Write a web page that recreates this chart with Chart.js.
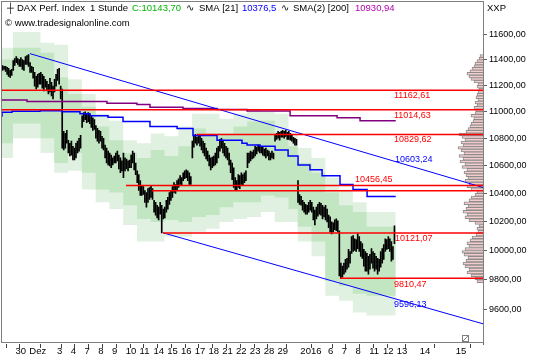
<!DOCTYPE html>
<html>
<head>
<meta charset="utf-8">
<title>DAX Perf. Index 1 Stunde</title>
<script src="https://cdn.jsdelivr.net/npm/chart.js@4.4.1/dist/chart.umd.min.js"></script>
<style>
html,body{margin:0;padding:0;background:#ffffff;overflow:hidden;}
canvas{display:block;}
</style>
</head>
<body>
<canvas id="chart" width="540" height="360"></canvas>
<script>
// ---------------- data ----------------
const dayLabels = ['', '30', 'Dez', '', '3', '4', '7', '8', '9', '10', '11', '14', '15', '16', '17', '18', '21', '22', '23', '28', '29', '', '2016', '', '6', '7', '8', '11', '12', '13'];
const dayBars   = [7, 9, 9, 9, 9, 9, 9, 9, 9, 9, 9, 9, 9, 9, 9, 9, 9, 9, 9, 9, 9, 6, 9, 9, 9, 9, 9, 9, 9, 1];
const futureLabels = ['14', '15'];
const futureIdx = [270.4, 293.9];

const highs = [
11354,11347,11347,11339,11331,11316,11324,
11393,11408,11424,11408,11401,11416,11401,11393,11424,
11431,11439,11377,11347,11339,11300,11270,11285,11293,
11300,11285,11270,11247,11232,11209,11255,11224,11194,
11247,11285,11324,11331,11194,11172,10852,10837,10859,
10786,10764,10779,10742,10728,10764,10779,10801,10822,
10969,10992,10999,10984,10992,10977,10969,10954,10940,
10895,10874,10859,10852,10815,10801,10750,10728,10706,
10692,10677,10656,10670,10692,10706,10677,10656,10634,
10692,10656,10648,10634,10641,10677,10706,10692,10619,
10562,10534,10491,10456,10449,10420,10406,10434,10442,
10456,10434,10350,10336,10315,10302,10336,10315,10288,
10302,10350,10371,10406,10420,10449,10477,10463,10491,
10505,10527,10513,10548,10562,10569,10562,10548,10520,
10779,10815,10830,10808,10822,10815,10801,10779,10764,
10728,10706,10677,10656,10663,10670,10692,10728,10742,
10793,10801,10779,10764,10742,10728,10692,10641,10619,
10584,10513,10491,10534,10527,10548,10534,10548,10562,
10692,10692,10706,10699,10714,10742,10735,10750,10742,
10742,10735,10721,10728,10714,10706,10692,10706,10692,
10830,10837,10852,10844,10852,10859,10852,10859,10844,
10852,10837,10822,10808,10801,10793,
10491,10392,10378,10350,10336,10322,10315,10336,10350,
10336,10302,10281,10302,10322,10336,10329,10315,10302,
10315,10288,10246,10233,10198,10191,10212,10219,10205,
10136,9913,9893,9913,9939,9946,10007,9993,10095,
10102,10081,10075,10115,10095,10061,10047,10007,9993,
9980,9960,9973,10013,9993,9980,9960,9946,9939,
9993,10013,10041,10081,10075,10095,10081,10061,10027,
10170];

const lows = [
11316,11324,11308,11285,11270,11262,11277,
11316,11354,11377,11362,11347,11347,11324,11316,11362,
11362,11347,11300,11300,11255,11194,11172,11187,11209,
11209,11179,11157,11187,11157,11134,11149,11119,11097,
11149,11194,11239,11209,11097,10728,10714,10728,10764,
10692,10670,10677,10641,10641,10656,10692,10706,10728,
10881,10925,10940,10917,10925,10910,10881,10859,10866,
10801,10779,10764,10779,10728,10714,10656,10619,10605,
10598,10584,10605,10619,10619,10634,10576,10548,10562,
10513,10562,10576,10562,10584,10584,10619,10569,10534,
10477,10420,10385,10385,10392,10336,10302,10336,10357,
10371,10357,10267,10246,10226,10212,10253,10122,10219,
10226,10267,10288,10322,10350,10371,10406,10399,10420,
10442,10463,10456,10491,10505,10513,10491,10463,10463,
10656,10735,10764,10750,10764,10742,10714,10692,10670,
10648,10634,10598,10569,10584,10598,10605,10619,10656,
10706,10728,10692,10670,10656,10641,10605,10548,10498,
10442,10420,10420,10442,10434,10463,10456,10477,10491,
10584,10619,10634,10648,10656,10670,10685,10706,10692,
10692,10677,10670,10656,10670,10641,10641,10656,10648,
10779,10793,10801,10786,10808,10808,10801,10815,10793,
10793,10786,10779,10764,10750,10750,
10336,10322,10315,10281,10267,10253,10253,10267,10281,
10267,10212,10177,10219,10239,10253,10246,10219,10233,
10212,10198,10157,10129,10115,10129,10143,10136,10129,
9826,9812,9819,9839,9852,9872,9886,9913,9980,
9993,10000,9993,10013,9993,9960,9946,9893,9859,
9859,9839,9872,9913,9879,9859,9872,9839,9859,
9886,9913,9939,9993,10007,10013,9993,9926,9939,
10047];

// daily envelope bands (one value per trading day)
const bandOuterTop    = [11493,11493,11618,11618,11532,11516,11247,11134,10984,10932,10786,10764,10837,10815,10888,10984,10984,10947,10984,11022,10999,10984,10837,10728,10656,10513,10427,10336,10267,10267];
const bandInnerTop    = [11401,11401,11493,11493,11454,11262,11134,11037,10888,10786,10692,10656,10714,10670,10742,10874,10837,10837,10888,10925,10932,10837,10742,10619,10548,10406,10315,10267,10164,10164];
const bandInnerBottom = [10764,10764,10910,10910,10801,10619,10692,10548,10427,10406,10315,10219,10198,10212,10198,10233,10246,10302,10336,10336,10385,10371,10288,10164,10061,9792,9759,9707,9694,9694];
const bandOuterBottom = [10656,10656,10801,10801,10692,10548,10562,10427,10336,10288,10177,10061,10061,10095,10095,10129,10150,10198,10219,10233,10267,10198,10198,10061,9960,9694,9661,9583,9563,9563];

const sma21Idx = [-0.65,5.9,24.2,38.5,50.3,56.8,68.6,78.4,96,113.7,124.1,139.8,156.1,159.4,167.9,177.7,186.2,192.7,200.5,208.4,220.1,228.6,237.8,246.2,256.5];
const sma21Val = [10962,10995,11003,11006,10999,10984,10969,10958,10925,10888,10874,10822,10786,10764,10750,10742,10714,10670,10605,10569,10527,10463,10427,10377,10377];
const sma200Idx = [-0.65,15.7,67.9,87.5,96,117.6,139.8,159.4,187.5,218.2,233.2,246.2,256.5];
const sma200Val = [11084,11089,11076,11064,11054,11034,11024,11016,11004,10969,10954,10931,10931];

const levelValues   = [11162.61, 11014.63, 10829.62, 10456.45, 10418.00, 10121.07, 9810.47];
const levelStartIdx = [-0.65, -0.65, 126.7, 80.3, 97.3, 104.5, 220.1];
const trendUpperIdx = [17.6, 313.5];
const trendUpperVal = [11447, 10442];
const trendLowerIdx = [104.5, 313.5];
const trendLowerVal = [10122, 9509];
const levelLabels = [11162.61, 11014.63, 10829.62, 10603.24, 10456.45, 10121.07, 9810.47, 9596.13];

const profileLevels = [
9800,9820,9840,9860,9880,9900,9920,9940,9960,9980,
10000,10020,10040,10060,10080,10100,10120,10140,10160,10180,
10200,10220,10240,10260,10280,10300,10320,10340,10360,10380,
10400,10420,10440,10460,10480,10500,10520,10540,10560,10580,
10600,10620,10640,10660,10680,10700,10720,10740,10760,10780,
10800,10820,10840,10860,10880,10900,10920,10940,10960,10980,
11000,11020,11040,11060,11080,11100,11120,11140,11160,11180,
11200,11220,11240,11260,11280,11300,11320,11340,11360,11380,
11400,11420,11440];
const profileVolume = [
6,8,12,16,14,18,20,17,15,19,
21,18,14,16,13,11,7,5,6,4,
8,14,18,16,20,17,15,19,14,12,
8,6,12,16,14,18,15,17,19,16,
21,18,23,20,24,19,22,25,20,22,
18,21,24,17,15,13,12,10,9,12,
8,7,9,6,8,5,7,6,5,4,
6,5,9,12,14,16,13,11,9,8,
6,4,3];

const yTicks = [9600, 9800, 10000, 10200, 10400, 10600, 10800, 11000, 11200, 11400, 11600];

// ---------------- build ----------------
const X_MIN = -0.65, X_MAX = 313.5, Y_MIN = 9378.1, Y_MAX = 11816;
const dayStart = [];
let nBars = 0;
for (const n of dayBars) { dayStart.push(nBars); nBars += n; }

const xTickVals = [], xTickText = [];
dayLabels.forEach((lab, k) => { if (lab) { xTickVals.push(dayStart[k] - 0.5); xTickText.push(lab); } });
futureIdx.forEach((v, k) => { xTickVals.push(v); xTickText.push(futureLabels[k]); });

const stepSeries = vals => {
  const pts = vals.map((v, k) => ({ x: k === 0 ? X_MIN : dayStart[k] - 0.5, y: v }));
  pts.push({ x: nBars - 0.5, y: vals[vals.length - 1] });
  return pts;
};
const pairs = (a, b) => a.map((x, k) => ({ x, y: b[k] }));

const FONT = '"Liberation Sans", Arial, sans-serif';
Chart.defaults.font.family = FONT;
Chart.defaults.font.size = 9;
Chart.defaults.color = '#000';

const L = { type: 'line', pointRadius: 0, pointHoverRadius: 0, tension: 0, fill: false, xAxisID: 'x', yAxisID: 'y' };
const NONE = 'rgba(0,0,0,0)';
const datasets = [];
levelValues.forEach((v, k) => datasets.push({ ...L, data: [{ x: levelStartIdx[k], y: v }, { x: X_MAX, y: v }], borderColor: '#ff0000', borderWidth: 1.5 }));
datasets.push({ ...L, data: pairs(trendUpperIdx, trendUpperVal), borderColor: '#0000ff', borderWidth: 1 });
datasets.push({ ...L, data: pairs(trendLowerIdx, trendLowerVal), borderColor: '#0000ff', borderWidth: 1 });
datasets.push({ ...L, data: pairs(sma21Idx, sma21Val), stepped: 'after', borderColor: '#0000ff', borderWidth: 1.5 });
datasets.push({ ...L, data: pairs(sma200Idx, sma200Val), stepped: 'after', borderColor: '#800080', borderWidth: 1.5 });
datasets.push({ type: 'bar', xAxisID: 'x', yAxisID: 'y', data: highs.map((h, i) => ({ x: i, y: [lows[i], h] })), backgroundColor: '#000000', barThickness: 1, borderWidth: 0 });
datasets.push({ type: 'bar', indexAxis: 'y', xAxisID: 'x2', yAxisID: 'yP', data: profileLevels.map((p, k) => ({ x: profileVolume[k], y: p })), backgroundColor: '#f4cccc', borderColor: '#8c8c8c', borderWidth: 1, barThickness: 2.8 });
datasets.push({ ...L, data: stepSeries(bandInnerTop), stepped: 'after', borderColor: NONE, borderWidth: 0, fill: '+1', backgroundColor: '#c2e5c2' });
datasets.push({ ...L, data: stepSeries(bandInnerBottom), stepped: 'after', borderColor: NONE, borderWidth: 0 });
datasets.push({ ...L, data: stepSeries(bandOuterTop), stepped: 'after', borderColor: NONE, borderWidth: 0, fill: '+1', backgroundColor: '#e1f1e1' });
datasets.push({ ...L, data: stepSeries(bandOuterBottom), stepped: 'after', borderColor: NONE, borderWidth: 0 });

const labelColors = ['#ff0000', '#ff0000', '#ff0000', '#0000ff', '#ff0000', '#ff0000', '#ff0000', '#0000ff'];
const labelDy = [5.5, 5.5, 5.5, -5.6, -6, 5.3, 5.7, -6];
const labelX = [394, 394, 394, 395, 355, 395, 394, 394];

const overlay = {
  id: 'overlay',
  afterDraw(chart) {
    const ctx = chart.ctx, ys = chart.scales.y;
    ctx.save();
    ctx.font = '9px ' + FONT;
    ctx.textBaseline = 'middle';
    ctx.textAlign = 'left';
    levelLabels.forEach((v, k) => {
      ctx.fillStyle = labelColors[k];
      ctx.fillText(v.toFixed(2).replace('.', ','), labelX[k], ys.getPixelForValue(v) + labelDy[k]);
    });
    ctx.font = '9.5px ' + FONT;
    const parts = [
      ['\u253C', '#000', 7], ['DAX Perf. Index', '#000', 17], ['1 Stunde', '#000', 90],
      ['C:10143,70', '#00b400', 132], ['\u223F', '#000', 186], ['SMA [21]', '#000', 199],
      ['10376,5', '#0000ff', 242], ['\u223F', '#000', 281], ['SMA(2) [200]', '#000', 293],
      ['10930,94', '#b000b0', 355]
    ];
    parts.forEach(p => { ctx.fillStyle = p[1]; ctx.fillText(p[0], p[2], 8.5); });
    ctx.fillStyle = '#000';
    ctx.fillText('\u00A9 www.tradesignalonline.com', 5, 23.5);
    ctx.fillText('XXP', 487, 8.5);
    ctx.strokeStyle = '#7f7f7f';
    ctx.lineWidth = 1;
    ctx.strokeRect(1.5, 1.5, 482, 341);
    ctx.strokeRect(462.5, 335.5, 6, 6);
    ctx.beginPath(); ctx.moveTo(463, 341); ctx.lineTo(468, 336); ctx.stroke();
    ctx.restore();
  }
};

new Chart(document.getElementById('chart'), {
  type: 'line',
  data: { datasets },
  options: {
    responsive: false,
    animation: false,
    devicePixelRatio: 1,
    layout: { padding: { left: 2, top: 2, right: 0, bottom: 0 } },
    plugins: { legend: { display: false }, tooltip: { enabled: false } },
    scales: {
      x: {
        type: 'linear', min: X_MIN, max: X_MAX, bounds: 'data', offset: false,
        grid: { display: true, drawOnChartArea: false, drawTicks: true, tickLength: 4, color: '#404040' },
        border: { display: false },
        ticks: { autoSkip: false, maxRotation: 0, minRotation: 0, align: 'start', padding: -2, color: '#000', font: { size: 9.5 },
                 callback: (v, i) => ' ' + xTickText[i] },
        afterBuildTicks: s => { s.ticks = xTickVals.map(v => ({ value: v })); },
        afterFit: s => { s.height = 16; }
      },
      y: {
        type: 'logarithmic', position: 'right', min: Y_MIN, max: Y_MAX, bounds: 'data',
        grid: { display: true, drawOnChartArea: false, drawTicks: true, tickLength: 4, color: '#606060' },
        border: { display: true, color: '#606060' },
        ticks: { autoSkip: false, padding: 2, color: '#000', font: { size: 9 },
                 callback: v => Number(v).toFixed(2).replace('.', ',') },
        afterBuildTicks: s => { s.ticks = yTicks.map(v => ({ value: v })); },
        afterFit: s => { s.width = 57; }
      },
      x2: { type: 'linear', display: false, min: 0, max: 481, reverse: true, bounds: 'data', offset: false },
      yP: { type: 'logarithmic', display: false, position: 'right', min: Y_MIN, max: Y_MAX, bounds: 'data' }
    }
  },
  plugins: [overlay]
});
</script>
</body>
</html>
